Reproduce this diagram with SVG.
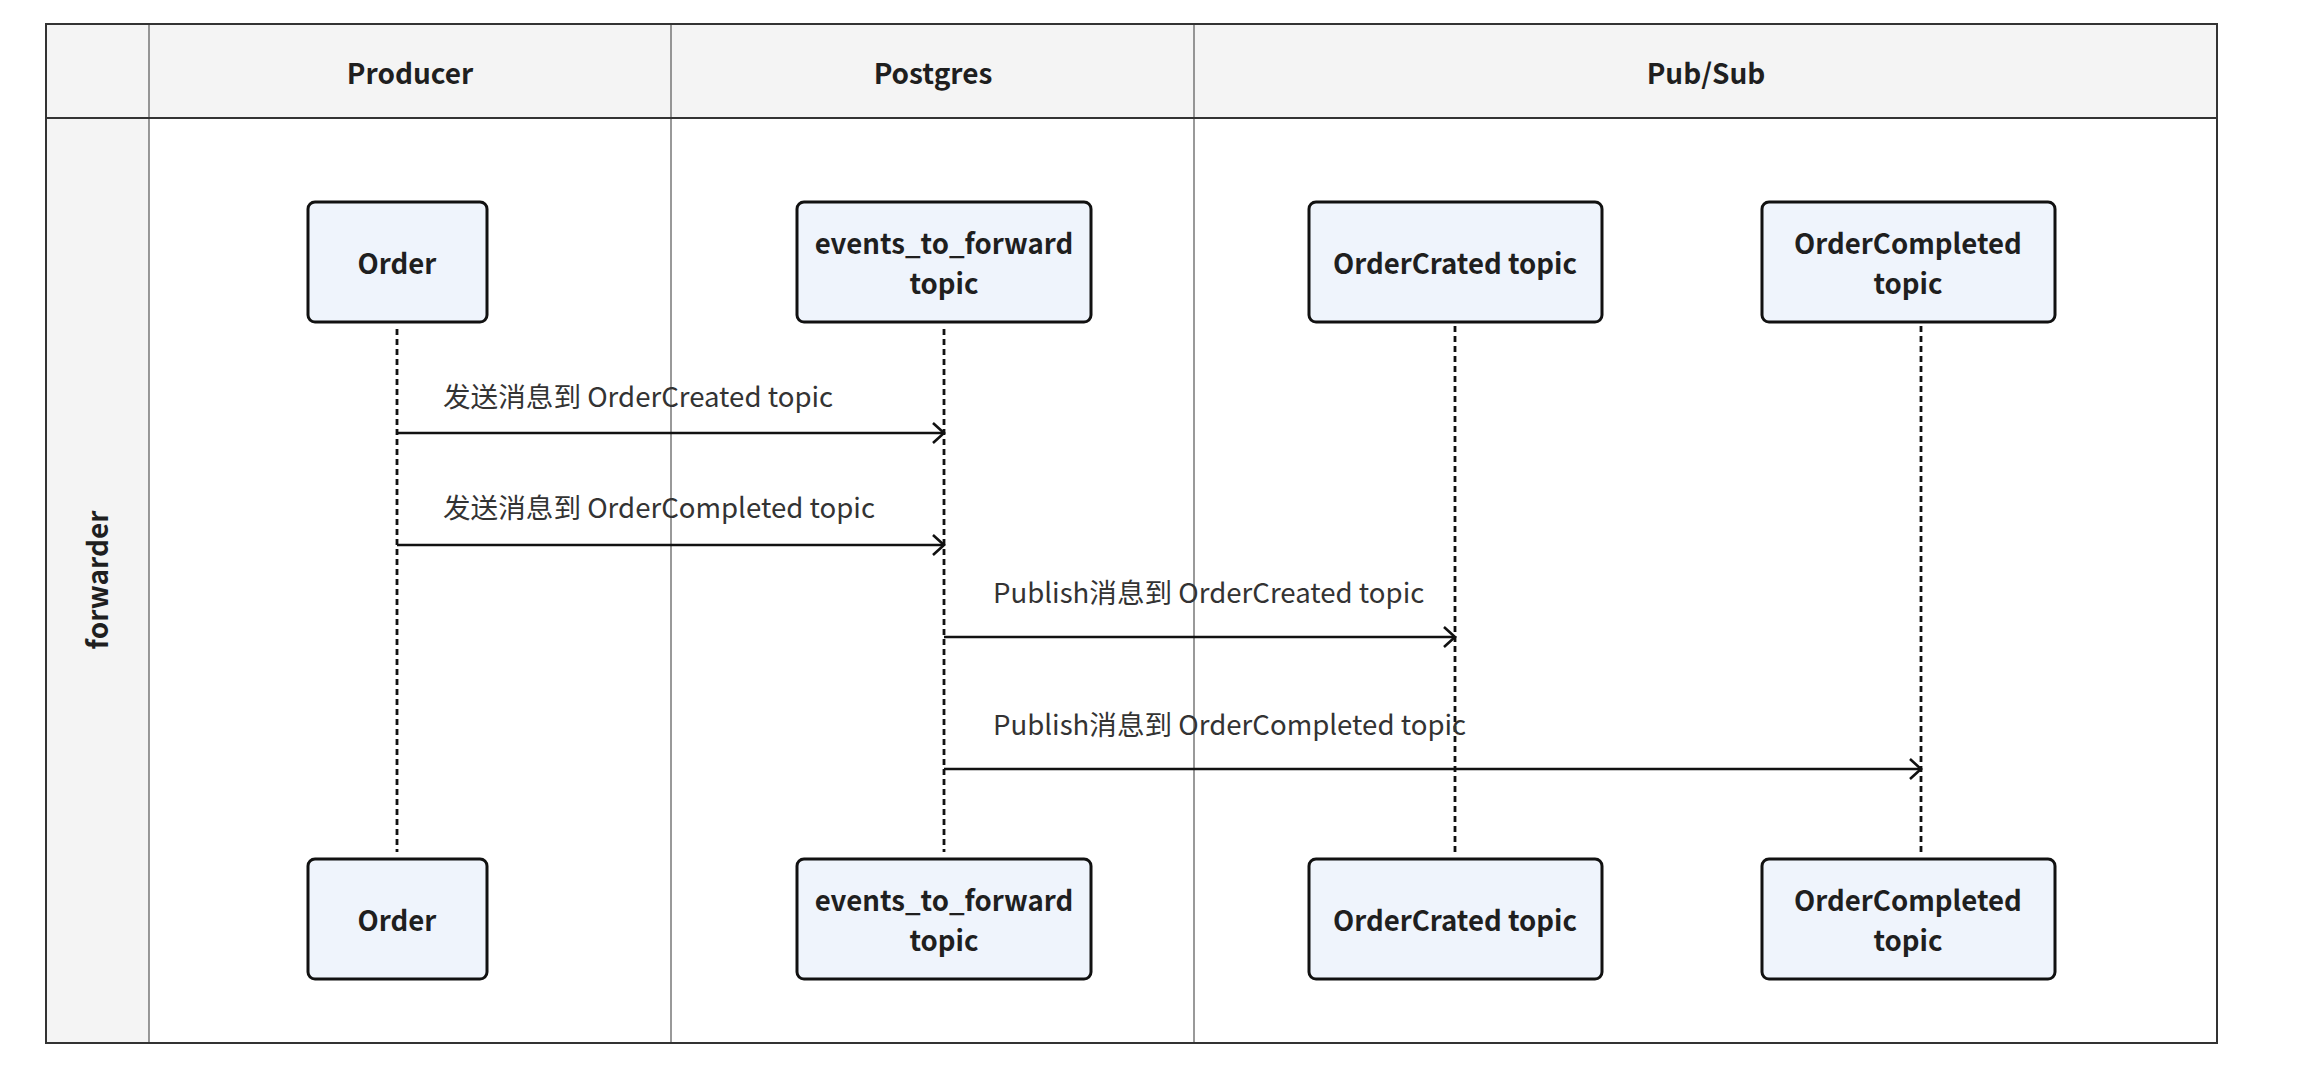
<svg xmlns="http://www.w3.org/2000/svg" width="2302" height="1080" viewBox="0 0 2302 1080">
<style>
.hdr{fill:#f4f4f4}
.frame{fill:none;stroke:#333;stroke-width:2}
.div{stroke:#555;stroke-width:1.2}
.ttl{font-family:"Noto Sans CJK SC","Noto Sans",sans-serif;font-size:28px;font-weight:bold;fill:#1f1f1f;text-anchor:middle}
.node rect{fill:#eff4fc;stroke:#111;stroke-width:3}
.node text{font-family:"Noto Sans CJK SC","Noto Sans",sans-serif;font-size:27.6px;font-weight:bold;fill:#1f1f1f;text-anchor:middle}
.life{stroke:#111;stroke-width:2.8;stroke-dasharray:6 4;fill:none}
.msg{stroke:#111;stroke-width:2.6;fill:none;marker-end:url(#arr)}
.lbl{font-family:"Noto Sans CJK SC","Noto Sans",sans-serif;font-size:27.6px;fill:#333}
</style>
<defs>
<marker id="arr" markerUnits="userSpaceOnUse" markerWidth="30" markerHeight="30" viewBox="-15 -15 30 30" refX="0" refY="0" orient="auto">
<path d="M-11,-10 L0,0 L-11,10" fill="none" stroke="#111" stroke-width="2.6"/>
</marker>
</defs>
<rect x="0" y="0" width="2302" height="1080" fill="#fff"/>
<g id="pool">
<rect class="hdr" x="46" y="24" width="2171" height="94"/>
<rect class="hdr" x="46" y="118" width="103" height="925"/>
<line class="div" x1="149" y1="24" x2="149" y2="1043"/>
<line class="div" x1="671" y1="24" x2="671" y2="1043"/>
<line class="div" x1="1194" y1="24" x2="1194" y2="1043"/>
<line x1="46" y1="118" x2="2217" y2="118" stroke="#333" stroke-width="2"/>
<rect class="frame" x="46" y="24" width="2171" height="1019"/>
<text class="ttl" x="410" y="84">Producer</text>
<text class="ttl" x="933" y="84">Postgres</text>
<text class="ttl" x="1706" y="84">Pub/Sub</text>
<text class="ttl" transform="translate(108,580) rotate(-90)">forwarder</text>
</g>
<g id="lifelines">
<line class="life" x1="397" y1="329" x2="397" y2="852"/>
<line class="life" x1="944" y1="329" x2="944" y2="852"/>
<line class="life" x1="1455" y1="326" x2="1455" y2="852"/>
<line class="life" x1="1921" y1="326" x2="1921" y2="852"/>
</g>
<g id="node-order-top" class="node"><rect x="308" y="202" width="179" height="120" rx="7"/><text x="397" y="274">Order</text></g>
<g id="node-events-top" class="node"><rect x="797" y="202" width="294" height="120" rx="7"/><text x="944" y="254">events_to_forward</text><text x="944" y="294">topic</text></g>
<g id="node-created-top" class="node"><rect x="1309" y="202" width="293" height="120" rx="7"/><text x="1455" y="274">OrderCrated topic</text></g>
<g id="node-completed-top" class="node"><rect x="1762" y="202" width="293" height="120" rx="7"/><text x="1908" y="254">OrderCompleted</text><text x="1908" y="294">topic</text></g>
<g id="node-order-bottom" class="node"><rect x="308" y="859" width="179" height="120" rx="7"/><text x="397" y="931">Order</text></g>
<g id="node-events-bottom" class="node"><rect x="797" y="859" width="294" height="120" rx="7"/><text x="944" y="911">events_to_forward</text><text x="944" y="951">topic</text></g>
<g id="node-created-bottom" class="node"><rect x="1309" y="859" width="293" height="120" rx="7"/><text x="1455" y="931">OrderCrated topic</text></g>
<g id="node-completed-bottom" class="node"><rect x="1762" y="859" width="293" height="120" rx="7"/><text x="1908" y="911">OrderCompleted</text><text x="1908" y="951">topic</text></g>
<g id="connectors">
<line class="msg" x1="397" y1="433" x2="944" y2="433"/>
<line class="msg" x1="397" y1="545" x2="944" y2="545"/>
<line class="msg" x1="944" y1="637" x2="1455" y2="637"/>
<line class="msg" x1="944" y1="769" x2="1921" y2="769"/>
<text class="lbl" x="443" y="407">发送消息到 OrderCreated topic</text>
<text class="lbl" x="443" y="518">发送消息到 OrderCompleted topic</text>
<text class="lbl" x="993" y="603">Publish消息到 OrderCreated topic</text>
<text class="lbl" x="993" y="735">Publish消息到 OrderCompleted topic</text>
</g>
</svg>
